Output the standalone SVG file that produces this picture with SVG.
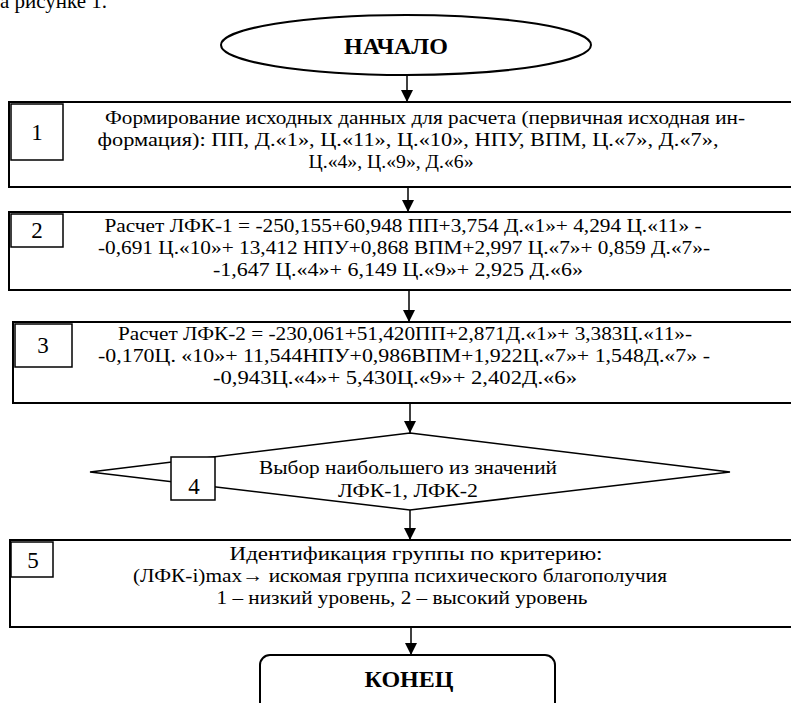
<svg xmlns="http://www.w3.org/2000/svg" width="791" height="703" viewBox="0 0 791 703">
<defs>
<marker id="ah" markerWidth="12" markerHeight="12" refX="10" refY="5" orient="auto" markerUnits="userSpaceOnUse" viewBox="0 0 10 10">
<path d="M0,0 L10,5 L0,10 Z" fill="#000"/>
</marker>
</defs>
<style>
text{font-family:"Liberation Serif","Times New Roman",serif;fill:#000}
.t{font-size:19.5px;text-anchor:middle}
.n{font-size:23px;text-anchor:middle}
.b{font-size:24px;font-weight:bold;text-anchor:middle}
.box{fill:#fff;stroke:#000;stroke-width:2}
.sub{fill:#fff;stroke:#000;stroke-width:1.5}
.c{stroke:#000;stroke-width:1.5;fill:none;marker-end:url(#ah)}
.d{font-size:19.5px;text-anchor:middle}
</style>
<rect width="791" height="703" fill="#fff"/>
<text x="0" y="8" style="font-size:21px">а рисунке 1.</text>
<g id="connectors">
<line class="c" x1="407" y1="75" x2="407" y2="102"/>
<line class="c" x1="408" y1="187" x2="408" y2="212"/>
<line class="c" x1="409" y1="290" x2="409" y2="322"/>
<line class="c" x1="410" y1="403" x2="410" y2="433"/>
<line class="c" x1="410" y1="510" x2="410" y2="540"/>
<line class="c" x1="411" y1="627" x2="411" y2="655"/>
</g>
<g id="start">
<ellipse cx="406" cy="45" rx="185" ry="30" fill="#fff" stroke="#000" stroke-width="2"/>
<text class="b" x="396" y="54">НАЧАЛО</text>
</g>
<g id="node1">
<rect class="box" x="9" y="102" width="800" height="85"/>
<rect class="sub" x="11" y="104" width="52" height="56"/>
<text class="n" x="37" y="140">1</text>
<text class="t" x="425" y="124" textLength="640" lengthAdjust="spacingAndGlyphs">Формирование исходных данных для расчета (первичная исходная ин-</text>
<text class="t" x="408" y="146" textLength="621" lengthAdjust="spacingAndGlyphs">формация): ПП, Д.«1», Ц.«11», Ц.«10», НПУ, ВПМ, Ц.«7», Д.«7»,</text>
<text class="t" x="391" y="168" textLength="165" lengthAdjust="spacingAndGlyphs">Ц.«4», Ц.«9», Д.«6»</text>
</g>
<g id="node2">
<rect class="box" x="9" y="212" width="800" height="78"/>
<rect class="sub" x="11" y="214" width="52" height="33"/>
<text class="n" x="37" y="238">2</text>
<text class="t" x="403" y="232" textLength="597" lengthAdjust="spacingAndGlyphs">Расчет ЛФК-1 = -250,155+60,948 ПП+3,754 Д.«1»+ 4,294 Ц.«11» -</text>
<text class="t" x="404" y="254" textLength="612" lengthAdjust="spacingAndGlyphs">-0,691 Ц.«10»+ 13,412 НПУ+0,868 ВПМ+2,997 Ц.«7»+ 0,859 Д.«7»-</text>
<text class="t" x="398" y="276" textLength="370" lengthAdjust="spacingAndGlyphs">-1,647 Ц.«4»+ 6,149 Ц.«9»+ 2,925 Д.«6»</text>
</g>
<g id="node3">
<rect class="box" x="13" y="322" width="800" height="81"/>
<rect class="sub" x="15" y="324" width="57" height="43"/>
<text class="n" x="43" y="353">3</text>
<text class="t" x="405" y="340" textLength="574" lengthAdjust="spacingAndGlyphs">Расчет ЛФК-2 = -230,061+51,420ПП+2,871Д.«1»+ 3,383Ц.«11»-</text>
<text class="t" x="404" y="362" textLength="612" lengthAdjust="spacingAndGlyphs">-0,170Ц. «10»+ 11,544НПУ+0,986ВПМ+1,922Ц.«7»+ 1,548Д.«7» -</text>
<text class="t" x="395" y="384" textLength="364" lengthAdjust="spacingAndGlyphs">-0,943Ц.«4»+ 5,430Ц.«9»+ 2,402Д.«6»</text>
</g>
<g id="node4">
<polygon points="410,433 730,472 410,510 90,472" fill="#fff" stroke="#000" stroke-width="1.5"/>
<rect class="sub" x="171" y="457" width="44" height="43"/>
<text class="n" x="194" y="494">4</text>
<text class="d" x="408" y="474" textLength="298" lengthAdjust="spacingAndGlyphs">Выбор наибольшего из значений</text>
<text class="d" x="408" y="497" textLength="140" lengthAdjust="spacingAndGlyphs">ЛФК-1, ЛФК-2</text>
</g>
<g id="node5">
<rect class="box" x="10" y="540" width="800" height="87"/>
<rect class="sub" x="11" y="542" width="42" height="35"/>
<text class="n" x="33" y="568">5</text>
<text class="t" x="416" y="560" textLength="373" lengthAdjust="spacingAndGlyphs">Идентификация группы по критерию:</text>
<text class="t" x="400" y="582" textLength="534" lengthAdjust="spacingAndGlyphs">(ЛФК-i)max→ искомая группа психического благополучия</text>
<text class="t" x="402" y="604" textLength="371" lengthAdjust="spacingAndGlyphs">1 – низкий уровень, 2 – высокий уровень</text>
</g>
<g id="end">
<rect x="260" y="655" width="295" height="70" rx="10" fill="#fff" stroke="#000" stroke-width="2"/>
<text class="b" x="409" y="687">КОНЕЦ</text>
</g>
</svg>
